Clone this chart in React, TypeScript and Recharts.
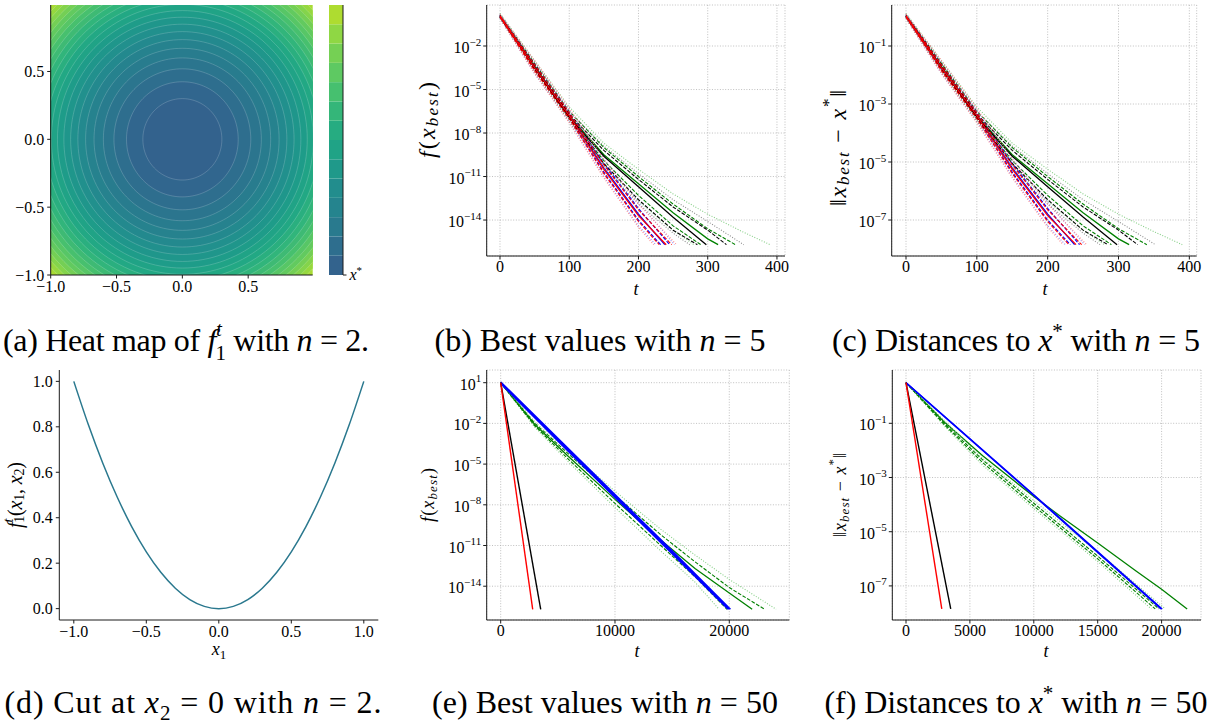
import {
  Area,
  Bar,
  BarChart,
  CartesianGrid,
  ComposedChart,
  Line,
  LineChart,
  XAxis,
  YAxis,
} from "recharts";

const SERIF = '"Liberation Serif", "DejaVu Serif", serif';
const INK = "#000000";
const SPINE = "#1a1a1a";
const GRID = "#b0b0b0";

type Pt = [number, number]; // [t, log10 of value]
type Style = "solid" | "dashed" | "dotted";

// (a) heat map: contour levels of f (outermost last) and band colours
const HEAT_LEVELS = [
  0.09, 0.18, 0.27, 0.36, 0.45, 0.54, 0.63, 0.72, 0.81, 0.9, 0.99, 1.08, 1.17,
  1.26, 1.35, 1.44, 1.53, 1.62, 1.71, 1.8, 1.89, 2.1,
];
const HEAT_COLORS = [
  "#33628d", "#31668e", "#2e6e8e", "#2b758e", "#287c8e", "#26828e", "#23898e",
  "#21908d", "#1f968b", "#1e9c89", "#20a386", "#22a884", "#2aaf7f", "#31b57b",
  "#3eba74", "#47c06e", "#57c666", "#62ca5f", "#74cf55", "#84d44b", "#96d83f",
  "#a8db34",
];
const COLORBAR_COLORS = [
  "#33638d", "#2e6e8e", "#297a8e", "#25848e", "#228d8d", "#1f998a", "#20a386",
  "#26ac81", "#34b679", "#46c06f", "#5ec962", "#75d054", "#8fd744", "#aedc30",
];
const HEAT_TICKS = [-1, -0.5, 0, 0.5];

// (d) cut at x2 = 0
const CUT_X = [
  -1, -0.9, -0.8, -0.7, -0.6, -0.5, -0.4, -0.3, -0.2, -0.1, 0, 0.1, 0.2, 0.3,
  0.4, 0.5, 0.6, 0.7, 0.8, 0.9, 1,
];
const CUT_F = [
  1, 0.81, 0.64, 0.49, 0.36, 0.25, 0.16, 0.09, 0.04, 0.01, 0, 0.01, 0.04, 0.09,
  0.16, 0.25, 0.36, 0.49, 0.64, 0.81, 1,
];
const CUT_XTICKS = [-1, -0.5, 0, 0.5, 1];
const CUT_YTICKS = [0, 0.2, 0.4, 0.6, 0.8, 1];

// (b) best values, n = 5  (min, q1, median, q3, max)
const bRed: Pt[][] = [
  [[0, -0.1], [50, -3.9], [100, -7.3], [150, -11.1], [200, -14.5], [222, -15.7]],
  [[0, 0], [50, -3.7], [100, -7.0], [150, -10.8], [200, -14.1], [230, -15.7]],
  [[0, 0.05], [50, -3.5], [100, -6.8], [150, -10.5], [200, -13.7], [240, -15.7]],
  [[0, 0.1], [50, -3.3], [100, -6.6], [150, -10.2], [200, -13.3], [248, -15.7]],
  [[0, 0.2], [50, -3.0], [100, -6.3], [150, -9.8], [200, -12.9], [255, -15.7]],
];
const bBlue: Pt[][] = [
  [[0, -0.1], [50, -3.9], [100, -7.2], [150, -11.0], [200, -14.4], [225, -15.7]],
  [[0, 0.02], [50, -3.6], [100, -6.9], [150, -10.7], [200, -14.0], [232, -15.7]],
  [[0, 0.05], [50, -3.5], [100, -6.8], [150, -10.4], [200, -13.6], [238, -15.7]],
  [[0, 0.12], [50, -3.3], [100, -6.6], [150, -10.1], [200, -13.2], [245, -15.7]],
  [[0, 0.2], [50, -3.1], [100, -6.4], [150, -9.8], [200, -12.8], [252, -15.7]],
];
const bBlack: Pt[][] = [
  [[0, -0.1], [50, -3.8], [100, -7.2], [150, -10.4], [200, -12.9], [250, -14.9], [274, -15.7]],
  [[0, 0], [50, -3.6], [100, -7.0], [150, -10.1], [200, -12.6], [250, -14.7], [285, -15.7]],
  [[0, 0.05], [50, -3.5], [100, -6.9], [150, -9.6], [200, -11.7], [250, -13.8], [298, -15.7]],
  [[0, 0.1], [50, -3.3], [100, -6.7], [150, -9.2], [200, -11.2], [250, -13.1], [300, -14.7], [327, -15.7]],
  [[0, 0.2], [50, -3.1], [100, -6.5], [150, -8.9], [200, -10.8], [250, -12.6], [300, -14.1], [352, -15.7]],
];
const bGreen: Pt[][] = [
  [[0, -0.05], [50, -3.7], [100, -7.1], [150, -10.2], [200, -12.7], [250, -14.7], [280, -15.7]],
  [[0, 0], [50, -3.5], [100, -6.9], [150, -9.9], [200, -12.3], [250, -14.4], [290, -15.7]],
  [[0, 0.05], [50, -3.4], [100, -6.8], [150, -9.5], [200, -11.5], [250, -13.5], [300, -15.3], [315, -15.7]],
  [[0, 0.15], [50, -3.2], [100, -6.5], [150, -9.0], [200, -11.0], [250, -12.9], [300, -14.6], [340, -15.7]],
  [[0, 0.25], [50, -3.0], [100, -6.2], [150, -8.7], [200, -10.5], [250, -12.2], [300, -13.6], [350, -14.8], [390, -15.7]],
];

// (c) distances to x*, n = 5
const cRed: Pt[][] = [
  [[0, -0.05], [50, -1.95], [100, -3.65], [150, -5.55], [200, -7.25], [222, -7.85]],
  [[0, 0], [50, -1.85], [100, -3.5], [150, -5.4], [200, -7.05], [230, -7.85]],
  [[0, 0.03], [50, -1.75], [100, -3.4], [150, -5.25], [200, -6.85], [240, -7.85]],
  [[0, 0.05], [50, -1.65], [100, -3.3], [150, -5.1], [200, -6.65], [248, -7.85]],
  [[0, 0.1], [50, -1.5], [100, -3.15], [150, -4.9], [200, -6.45], [255, -7.85]],
];
const cBlue: Pt[][] = [
  [[0, -0.05], [50, -1.95], [100, -3.6], [150, -5.5], [200, -7.2], [225, -7.85]],
  [[0, 0.01], [50, -1.8], [100, -3.45], [150, -5.35], [200, -7.0], [232, -7.85]],
  [[0, 0.03], [50, -1.75], [100, -3.4], [150, -5.2], [200, -6.8], [238, -7.85]],
  [[0, 0.06], [50, -1.65], [100, -3.3], [150, -5.05], [200, -6.6], [245, -7.85]],
  [[0, 0.1], [50, -1.55], [100, -3.2], [150, -4.9], [200, -6.4], [252, -7.85]],
];
const cBlack: Pt[][] = [
  [[0, -0.05], [50, -1.9], [100, -3.6], [150, -5.2], [200, -6.45], [250, -7.45], [274, -7.85]],
  [[0, 0], [50, -1.8], [100, -3.5], [150, -5.05], [200, -6.3], [250, -7.35], [285, -7.85]],
  [[0, 0.03], [50, -1.75], [100, -3.45], [150, -4.8], [200, -5.85], [250, -6.9], [298, -7.85]],
  [[0, 0.05], [50, -1.65], [100, -3.35], [150, -4.6], [200, -5.6], [250, -6.55], [300, -7.35], [327, -7.85]],
  [[0, 0.1], [50, -1.55], [100, -3.25], [150, -4.45], [200, -5.4], [250, -6.3], [300, -7.05], [352, -7.85]],
];
const cGreen: Pt[][] = [
  [[0, -0.03], [50, -1.85], [100, -3.55], [150, -5.1], [200, -6.35], [250, -7.35], [280, -7.85]],
  [[0, 0], [50, -1.75], [100, -3.45], [150, -4.95], [200, -6.15], [250, -7.2], [290, -7.85]],
  [[0, 0.03], [50, -1.7], [100, -3.4], [150, -4.75], [200, -5.75], [250, -6.75], [300, -7.65], [315, -7.85]],
  [[0, 0.08], [50, -1.6], [100, -3.25], [150, -4.5], [200, -5.5], [250, -6.45], [300, -7.3], [340, -7.85]],
  [[0, 0.12], [50, -1.5], [100, -3.1], [150, -4.35], [200, -5.25], [250, -6.1], [300, -6.8], [350, -7.4], [390, -7.85]],
];

// (e) best values, n = 50
const eRed: Pt[][] = [[[0, 1], [2800, -15.7]]];
const eBlack: Pt[][] = [[[0, 1], [3500, -15.7]]];
const eBlue: Pt[][] = [
  [[0, 1], [5000, -3.2], [10000, -7.35], [15000, -11.5], [20000, -15.7]],
  [[0, 1.05], [5000, -3.1], [10000, -7.25], [15000, -11.4], [20100, -15.7]],
  [[0, 0.95], [5000, -3.3], [10000, -7.45], [15000, -11.6], [19900, -15.7]],
];
const eGreen: Pt[][] = [
  [[0, 1], [3000, -2.3], [6000, -4.9], [10000, -8.2], [14000, -11.4], [17000, -13.7], [19100, -15.7]],
  [[0, 1], [3000, -2.2], [6000, -4.7], [10000, -7.9], [14000, -11.0], [17000, -13.3], [19800, -15.7]],
  [[0, 1], [3000, -2.1], [6000, -4.5], [10000, -7.6], [14000, -10.6], [17000, -12.7], [20000, -14.5], [22000, -15.7]],
  [[0, 1], [3000, -2.0], [6000, -4.3], [10000, -7.3], [14000, -10.2], [17000, -12.2], [20000, -14.1], [23100, -15.7]],
  [[0, 1], [3000, -1.9], [6000, -4.1], [10000, -7.0], [14000, -9.8], [17000, -11.7], [20000, -13.5], [24100, -15.7]],
];

// (f) distances to x*, n = 50
const fRed: Pt[][] = [[[0, 0.5], [2800, -7.85]]];
const fBlack: Pt[][] = [[[0, 0.5], [3500, -7.85]]];
const fBlue: Pt[][] = [
  [[0, 0.5], [10000, -3.65], [20000, -7.85]],
  [[0, 0.51], [10000, -3.63], [20050, -7.85]],
  [[0, 0.49], [10000, -3.67], [19950, -7.85]],
];
const fGreen: Pt[][] = [
  [[0, 0.5], [3000, -1.1], [6000, -2.55], [10000, -4.15], [15000, -6.1], [19200, -7.85]],
  [[0, 0.5], [3000, -1.05], [6000, -2.45], [10000, -4.05], [15000, -6.0], [19500, -7.85]],
  [[0, 0.5], [3000, -0.95], [6000, -2.2], [10000, -3.7], [12000, -4.4], [15000, -5.42], [18000, -6.45], [20000, -7.12], [22000, -7.85]],
  [[0, 0.5], [3000, -1.0], [6000, -2.35], [10000, -3.95], [15000, -5.9], [19800, -7.85]],
  [[0, 0.5], [3000, -0.9], [6000, -2.3], [10000, -3.85], [15000, -5.75], [20300, -7.85]],
];

const QUANTILES: Style[] = ["dotted", "dashed", "solid", "dashed", "dotted"];
const SOLIDS: Style[] = ["solid", "solid", "solid"];

const RED = { color: "#ff0000", light: "#ff8a8a" };
const BLUE = { color: "#0000ff", light: "#8a8aff" };
const BLACK = { color: "#000000", light: "#8c8c8c" };
const GREEN = { color: "#008000", light: "#86cf86" };

type Group = {
  id: string;
  lines: Pt[][];
  color: string;
  light: string;
  styles: Style[];
  width?: number;
};

const toRows = (pts: Pt[]) => pts.map(([t, e]) => ({ t, v: Math.pow(10, e) }));

const ringRows = (level: number) => {
  const r = Math.sqrt(level);
  const rows: { x: number; band: [number, number] }[] = [];
  for (let i = 0; i <= 72; i++) {
    const a = Math.PI * (1 - i / 72);
    const h = r * Math.sin(a);
    rows.push({ x: r * Math.cos(a), band: [-h, h] });
  }
  return rows;
};

const fmtSigned = (v: number) => v.toFixed(1).replace("-", "\u2212");

const tickFont = { fill: INK, fontSize: 16, fontFamily: SERIF };

const LogTick = (props: any) => {
  const { x, y, payload } = props;
  const e = Math.round(Math.log10(payload.value));
  const exp = e < 0 ? `\u2212${-e}` : `${e}`;
  return (
    <text x={x} y={y + 7} textAnchor="end" fontFamily={SERIF} fontSize={16} fill={INK}>
      10
      <tspan dy={-7.5} fontSize={11}>
        {exp}
      </tspan>
    </text>
  );
};

const StarTick = (props: any) => {
  const { x, y } = props;
  return (
    <text x={x} y={y + 5} textAnchor="start" fontFamily={SERIF} fontSize={16} fill={INK}>
      <tspan fontStyle="italic">x</tspan>
      <tspan dy={-6} fontSize={11}>
        *
      </tspan>
    </text>
  );
};

const frameAxes = () => [
  <XAxis key="fx" xAxisId="top" orientation="top" type="number" domain={[0, 1]} height={0} tick={false} tickLine={false} stroke={SPINE} />,
  <YAxis key="fy" yAxisId="right" orientation="right" type="number" domain={[0, 1]} width={0} tick={false} tickLine={false} stroke={SPINE} />,
];

const seriesLines = (groups: Group[]) =>
  groups.flatMap((g) =>
    g.lines.map((pts, i) => {
      const s = g.styles[i];
      return (
        <Line
          key={`${g.id}-${i}`}
          data={toRows(pts)}
          dataKey="v"
          type="linear"
          stroke={s === "dotted" ? g.light : g.color}
          strokeWidth={s === "solid" ? g.width ?? 1.3 : 1.1}
          strokeDasharray={s === "dashed" ? "3.7 1.6" : s === "dotted" ? "1 1.65" : undefined}
          dot={false}
          activeDot={false}
          isAnimationActive={false}
        />
      );
    })
  );

type LogPanelProps = {
  left: number;
  top: number;
  width: number;
  height: number;
  margin: { top: number; right: number; bottom: number; left: number };
  xDomain: [number, number];
  xTicks: number[];
  yExp: [number, number];
  yTickExp: number[];
  groups: Group[];
};

function LogPanel(p: LogPanelProps) {
  return (
    <div style={{ position: "absolute", left: p.left, top: p.top }}>
      <LineChart width={p.width} height={p.height} margin={p.margin}>
        <CartesianGrid stroke={GRID} strokeDasharray="1 1.65" strokeWidth={0.8} />
        {seriesLines(p.groups)}
        <XAxis
          dataKey="t"
          type="number"
          domain={p.xDomain}
          allowDataOverflow
          ticks={p.xTicks}
          interval={0}
          height={30}
          tickSize={3.5}
          tickMargin={1}
          stroke={SPINE}
          tick={tickFont}
        />
        <YAxis
          type="number"
          scale="log"
          domain={[Math.pow(10, p.yExp[0]), Math.pow(10, p.yExp[1])]}
          allowDataOverflow
          ticks={p.yTickExp.map((e) => Math.pow(10, e))}
          interval={0}
          width={60}
          tickSize={3.5}
          tickMargin={2}
          stroke={SPINE}
          tick={<LogTick />}
        />
        {frameAxes()}
      </LineChart>
    </div>
  );
}

const bGroups: Group[] = [
  { id: "bg", lines: bGreen, ...GREEN, styles: QUANTILES },
  { id: "bb", lines: bBlue, ...BLUE, styles: QUANTILES },
  { id: "bk", lines: bBlack, ...BLACK, styles: QUANTILES },
  { id: "br", lines: bRed, ...RED, styles: QUANTILES },
];
const cGroups: Group[] = [
  { id: "cg", lines: cGreen, ...GREEN, styles: QUANTILES },
  { id: "cb", lines: cBlue, ...BLUE, styles: QUANTILES },
  { id: "ck", lines: cBlack, ...BLACK, styles: QUANTILES },
  { id: "cr", lines: cRed, ...RED, styles: QUANTILES },
];
const eGroups: Group[] = [
  { id: "eg", lines: eGreen, ...GREEN, styles: QUANTILES },
  { id: "eb", lines: eBlue, ...BLUE, styles: SOLIDS, width: 1.6 },
  { id: "ek", lines: eBlack, ...BLACK, styles: SOLIDS, width: 1.4 },
  { id: "er", lines: eRed, ...RED, styles: SOLIDS, width: 1.4 },
];
const fGroups: Group[] = [
  { id: "fg", lines: fGreen, ...GREEN, styles: QUANTILES },
  { id: "fb", lines: fBlue, ...BLUE, styles: SOLIDS, width: 1.2 },
  { id: "fk", lines: fBlack, ...BLACK, styles: SOLIDS, width: 1.4 },
  { id: "fr", lines: fRed, ...RED, styles: SOLIDS, width: 1.4 },
];

function HeatMap() {
  const rings = HEAT_LEVELS.map((lvl, i) => ({ lvl, color: HEAT_COLORS[i], i })).reverse();
  return (
    <div style={{ position: "absolute", left: 0, top: 0 }}>
      <ComposedChart width={320} height={310} margin={{ top: 5, right: 7.3, bottom: 5, left: 0 }}>
        {rings.map((r) => (
          <Area
            key={`ring-${r.i}`}
            data={ringRows(r.lvl)}
            dataKey="band"
            type="linear"
            fill={r.color}
            fillOpacity={1}
            stroke="#ffffff"
            strokeOpacity={0.3}
            strokeWidth={0.6}
            dot={false}
            activeDot={false}
            isAnimationActive={false}
          />
        ))}
        <XAxis
          dataKey="x"
          type="number"
          domain={[-1, 0.99]}
          allowDataOverflow
          ticks={HEAT_TICKS}
          interval={0}
          height={30}
          tickSize={3.5}
          tickMargin={2}
          stroke={SPINE}
          tick={tickFont}
          tickFormatter={fmtSigned}
        />
        <YAxis
          type="number"
          domain={[-1, 0.99]}
          allowDataOverflow
          ticks={HEAT_TICKS}
          interval={0}
          width={50.7}
          tickSize={3.5}
          tickMargin={3}
          stroke={SPINE}
          tick={tickFont}
          tickFormatter={fmtSigned}
        />
        {frameAxes()}
      </ComposedChart>
    </div>
  );
}

function ColorBar() {
  const row: Record<string, number | string> = { name: "cb" };
  COLORBAR_COLORS.forEach((_, i) => {
    row[`b${i}`] = 1;
  });
  return (
    <div style={{ position: "absolute", left: 329, top: 0 }}>
      <BarChart width={54} height={310} data={[row]} barCategoryGap={0} margin={{ top: 5, right: 0, bottom: 35, left: 0 }}>
        {COLORBAR_COLORS.map((c, i) => (
          <Bar key={`cb-${i}`} dataKey={`b${i}`} stackId="cb" fill={c} isAnimationActive={false} />
        ))}
        <XAxis dataKey="name" height={0} tick={false} tickLine={false} stroke={SPINE} />
        <XAxis xAxisId="top" dataKey="name" orientation="top" height={0} tick={false} tickLine={false} stroke={SPINE} />
        <YAxis
          orientation="right"
          type="number"
          domain={[0, COLORBAR_COLORS.length]}
          ticks={[0]}
          width={40}
          tickSize={3.5}
          tickMargin={3}
          stroke={SPINE}
          tick={<StarTick />}
        />
        <YAxis yAxisId="left" orientation="left" type="number" domain={[0, 1]} width={0} tick={false} tickLine={false} stroke={SPINE} />
      </BarChart>
    </div>
  );
}

function CutPanel() {
  const rows = CUT_X.map((x, i) => ({ x, f: CUT_F[i] }));
  return (
    <div style={{ position: "absolute", left: 0, top: 360 }}>
      <LineChart width={390} height={300} data={rows} margin={{ top: 10, right: 11.7, bottom: 10, left: 0 }}>
        <Line dataKey="f" type="monotone" stroke="#2a788e" strokeWidth={1.5} dot={false} activeDot={false} isAnimationActive={false} />
        <XAxis
          dataKey="x"
          type="number"
          domain={[-1.1, 1.1]}
          ticks={CUT_XTICKS}
          interval={0}
          height={30}
          tickSize={3.5}
          tickMargin={2}
          stroke={SPINE}
          tick={tickFont}
          tickFormatter={fmtSigned}
        />
        <YAxis
          type="number"
          domain={[-0.05, 1.05]}
          ticks={CUT_YTICKS}
          interval={0}
          width={59.3}
          tickSize={3.5}
          tickMargin={3}
          stroke={SPINE}
          tick={tickFont}
          tickFormatter={(v: number) => v.toFixed(1)}
        />
        {frameAxes()}
      </LineChart>
    </div>
  );
}

const txt = { fontFamily: SERIF, fill: INK, style: { whiteSpace: "pre" as const } };

const yLabel = (cx: number, cy: number, size: number, len: number, body: any) => (
  <text
    x={cx}
    y={cy}
    transform={`rotate(-90 ${cx} ${cy})`}
    textAnchor="middle"
    dominantBaseline="central"
    fontSize={size}
    textLength={len}
    {...txt}
  >
    {body}
  </text>
);

const fBestLabel = (s: number, d: number) => [
  <tspan key="1" fontStyle="italic">{"f"}</tspan>,
  <tspan key="2">{"("}</tspan>,
  <tspan key="3" fontStyle="italic">{"x"}</tspan>,
  <tspan key="4" fontStyle="italic" fontSize={s} dy={d}>{"best"}</tspan>,
  <tspan key="5" dy={-d}>{")"}</tspan>,
];
const distLabel = (s: number, d: number) => [
  <tspan key="1">{"\u2016"}</tspan>,
  <tspan key="2" fontStyle="italic">{"x"}</tspan>,
  <tspan key="3" fontStyle="italic" fontSize={s} dy={d}>{"best"}</tspan>,
  <tspan key="4" dy={-d}>{" \u2212 "}</tspan>,
  <tspan key="5" fontStyle="italic">{"x"}</tspan>,
  <tspan key="6" fontSize={s} dy={-2 * d}>{"*"}</tspan>,
  <tspan key="7" dy={2 * d}>{"\u2016"}</tspan>,
];
const cutLabel = [
  <tspan key="1" fontStyle="italic">{"f"}</tspan>,
  <tspan key="2" fontStyle="italic" fontSize={14} dy={-7}>{"t"}</tspan>,
  <tspan key="3" fontSize={14} dx={-4} dy={11}>{"1"}</tspan>,
  <tspan key="4" dy={-4}>{"("}</tspan>,
  <tspan key="5" fontStyle="italic">{"x"}</tspan>,
  <tspan key="6" fontSize={14} dy={4}>{"1"}</tspan>,
  <tspan key="7" dy={-4}>{", "}</tspan>,
  <tspan key="8" fontStyle="italic">{"x"}</tspan>,
  <tspan key="9" fontSize={14} dy={4}>{"2"}</tspan>,
  <tspan key="10" dy={-4}>{")"}</tspan>,
];

const CAP = 32;
const CAP_SMALL = 21;

function Annotations() {
  return (
    <svg width={1227} height={724} style={{ position: "absolute", left: 0, top: 0, pointerEvents: "none" }}>
      {/* axis labels */}
      {yLabel(427, 120, 24, 76, fBestLabel(17, 5))}
      {yLabel(838, 148, 24, 116, distLabel(17, 5))}
      {yLabel(15, 495, 20, 66, cutLabel)}
      {yLabel(428, 495, 18, 54, fBestLabel(13, 4))}
      {yLabel(840, 495, 18, 84, distLabel(13, 4))}
      <text x={636} y={295} textAnchor="middle" fontSize={18} fontStyle="italic" {...txt}>{"t"}</text>
      <text x={1045} y={295} textAnchor="middle" fontSize={18} fontStyle="italic" {...txt}>{"t"}</text>
      <text x={637} y={657} textAnchor="middle" fontSize={18} fontStyle="italic" {...txt}>{"t"}</text>
      <text x={1046} y={657} textAnchor="middle" fontSize={18} fontStyle="italic" {...txt}>{"t"}</text>
      <text x={219} y={655} textAnchor="middle" fontSize={18} {...txt}>
        <tspan fontStyle="italic">{"x"}</tspan>
        <tspan fontSize={13} dy={4}>{"1"}</tspan>
      </text>

      {/* captions */}
      <text x={186} y={351} textAnchor="middle" fontSize={CAP} textLength={366} {...txt}>
        <tspan>{"(a) Heat map of "}</tspan>
        <tspan fontStyle="italic">{"f"}</tspan>
        <tspan fontStyle="italic" fontSize={CAP_SMALL} dy={-15}>{"t"}</tspan>
        <tspan fontSize={CAP_SMALL} dx={-6} dy={24}>{"1"}</tspan>
        <tspan dy={-9}>{" with "}</tspan>
        <tspan fontStyle="italic">{"n"}</tspan>
        <tspan>{" = 2."}</tspan>
      </text>
      <text x={600} y={351} textAnchor="middle" fontSize={CAP} textLength={331} {...txt}>
        <tspan>{"(b) Best values with "}</tspan>
        <tspan fontStyle="italic">{"n"}</tspan>
        <tspan>{" = 5"}</tspan>
      </text>
      <text x={1016} y={351} textAnchor="middle" fontSize={CAP} textLength={368} {...txt}>
        <tspan>{"(c) Distances to "}</tspan>
        <tspan fontStyle="italic">{"x"}</tspan>
        <tspan fontSize={CAP_SMALL} dy={-13}>{"*"}</tspan>
        <tspan dy={13}>{" with "}</tspan>
        <tspan fontStyle="italic">{"n"}</tspan>
        <tspan>{" = 5"}</tspan>
      </text>
      <text x={193} y={713} textAnchor="middle" fontSize={CAP} textLength={377} {...txt}>
        <tspan>{"(d) Cut at "}</tspan>
        <tspan fontStyle="italic">{"x"}</tspan>
        <tspan fontSize={CAP_SMALL} dy={7}>{"2"}</tspan>
        <tspan dy={-7}>{" = 0 with "}</tspan>
        <tspan fontStyle="italic">{"n"}</tspan>
        <tspan>{" = 2."}</tspan>
      </text>
      <text x={605} y={713} textAnchor="middle" fontSize={CAP} textLength={346} {...txt}>
        <tspan>{"(e) Best values with "}</tspan>
        <tspan fontStyle="italic">{"n"}</tspan>
        <tspan>{" = 50"}</tspan>
      </text>
      <text x={1016} y={713} textAnchor="middle" fontSize={CAP} textLength={383} {...txt}>
        <tspan>{"(f) Distances to "}</tspan>
        <tspan fontStyle="italic">{"x"}</tspan>
        <tspan fontSize={CAP_SMALL} dy={-13}>{"*"}</tspan>
        <tspan dy={13}>{" with "}</tspan>
        <tspan fontStyle="italic">{"n"}</tspan>
        <tspan>{" = 50"}</tspan>
      </text>
    </svg>
  );
}

export default function App() {
  return (
    <div style={{ position: "absolute", left: 0, top: 0, width: 1227, height: 724, background: "#ffffff", fontFamily: SERIF }}>
      <HeatMap />
      <ColorBar />
      <LogPanel
        left={400}
        top={0}
        width={400}
        height={300}
        margin={{ top: 5, right: 15, bottom: 14, left: 26.7 }}
        xDomain={[-19.2, 411.6]}
        xTicks={[0, 100, 200, 300, 400]}
        yExp={[-16.48, 0.828]}
        yTickExp={[-14, -11, -8, -5, -2]}
        groups={bGroups}
      />
      <LogPanel
        left={800}
        top={0}
        width={427}
        height={300}
        margin={{ top: 5, right: 30.3, bottom: 14, left: 31.7 }}
        xDomain={[-20.2, 410.4]}
        xTicks={[0, 100, 200, 300, 400]}
        yExp={[-8.241, 0.414]}
        yTickExp={[-7, -5, -3, -1]}
        groups={cGroups}
      />
      <CutPanel />
      <LogPanel
        left={400}
        top={360}
        width={400}
        height={300}
        margin={{ top: 10, right: 10.7, bottom: 10, left: 26.7 }}
        xDomain={[-1225, 25250]}
        xTicks={[0, 10000, 20000]}
        yExp={[-16.49, 1.936]}
        yTickExp={[-14, -11, -8, -5, -2, 1]}
        groups={eGroups}
      />
      <LogPanel
        left={800}
        top={360}
        width={427}
        height={300}
        margin={{ top: 10, right: 26, bottom: 10, left: 32.3 }}
        xDomain={[-1072, 23083]}
        xTicks={[0, 5000, 10000, 15000, 20000]}
        yExp={[-8.258, 0.967]}
        yTickExp={[-7, -5, -3, -1]}
        groups={fGroups}
      />
      <Annotations />
    </div>
  );
}
